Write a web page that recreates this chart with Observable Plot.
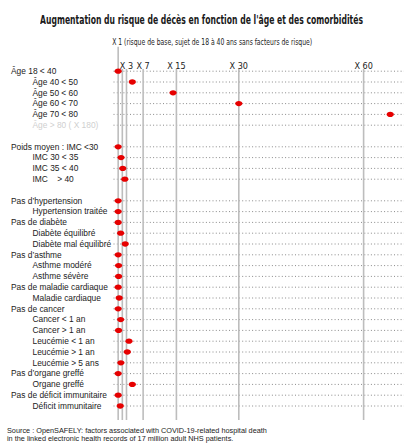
<!DOCTYPE html>
<html><head><meta charset="utf-8">
<script src="https://cdn.jsdelivr.net/npm/d3@7"></script>
<script src="https://cdn.jsdelivr.net/npm/@observablehq/plot@0.6"></script>
<style>
html,body{margin:0;padding:0;background:#fff;width:406px;height:443px;overflow:hidden}
#title{height:32px;position:relative;font-family:'Liberation Sans Narrow','DejaVu Sans Condensed','Roboto Condensed',sans-serif;font-stretch:condensed;}
#title span{position:absolute;left:40px;top:13px;font-size:13px;line-height:13px;font-weight:bold;color:#1a1a1a;white-space:nowrap;transform-origin:0 50%}
#chart{height:393px}
#chart svg{display:block}
#source{font-family:'Liberation Sans',Arial,sans-serif;font-size:7.3px;line-height:8.8px;color:#222;padding-left:7px;padding-top:1.5px}
</style></head>
<body>
<div id="title"><span>Augmentation du risque de décès en fonction de l'âge et des comorbidités</span></div>
<div id="chart"></div>
<div id="source">Source : OpenSAFELY: factors associated with COVID-19-related hospital death<br>in the linked electronic health records of 17 million adult NHS patients.</div>
<script>
const rowLabels = [
  "Âge 18 < 40","Âge 40 < 50","Âge 50 < 60","Âge 60 < 70","Âge 70 < 80","Âge > 80 ( X 180)","",
  "Poids moyen : IMC <30","IMC 30 < 35","IMC 35 < 40","IMC\u00a0\u00a0\u00a0\u00a0> 40","",
  "Pas d’hypertension","Hypertension traitée",
  "Pas de diabète","Diabète équilibré","Diabète mal équilibré",
  "Pas d’asthme","Asthme modéré","Asthme sévère",
  "Pas de maladie cardiaque","Maladie cardiaque",
  "Pas de cancer","Cancer < 1 an","Cancer > 1 an","Leucémie < 1 an","Leucémie > 1 an","Leucémie > 5 ans",
  "Pas d’organe greffé","Organe greffé",
  "Pas de déficit immunitaire","Déficit immunitaire"
];
const rowLevels = [0,1,1,1,1,1,0, 0,1,1,1,0, 0,1, 0,1,1, 0,1,1, 0,1, 0,1,1,1,1,1, 0,1, 0,1];
const rowRisk = [1,4.4,14.2,30,66.4,null,null, 1,1.7,2.1,2.6,null, 1,1, 1,1.6,2.7, 1,1.1,1.1, 1,1.25, 1,1.6,1.1,3.6,3.2,1.65, 1,4.4, 1,1.5];
const mutedRows = ["Âge > 80 ( X 180)"];
const tickValues = [3,7,15,30,60];
const extraLines = [2];
const baseValue = 1;
const subtitle = "X 1 (risque de base, sujet de 18 à 40 ans sans facteurs de risque)";

const rows = rowLabels.map((label,i)=>({i,label,level:rowLevels[i],risk:rowRisk[i]}));
const lined = rows.filter(d=>d.label!=="");
const dots = rows.filter(d=>d.risk!=null);

const ellipse = {draw(ctx,size){const r=Math.sqrt(size/Math.PI),rx=r*1.2,ry=r*0.88,k=0.5523;
  ctx.moveTo(rx,0);ctx.bezierCurveTo(rx,ry*k,rx*k,ry,0,ry);ctx.bezierCurveTo(-rx*k,ry,-rx,ry*k,-rx,0);
  ctx.bezierCurveTo(-rx,-ry*k,-rx*k,-ry,0,-ry);ctx.bezierCurveTo(rx*k,-ry,rx,-ry*k,rx,0);ctx.closePath();}};

const narrow = "'Liberation Sans Narrow','DejaVu Sans Condensed','Roboto Condensed',sans-serif";
const chart = Plot.plot({
  width:406, height:393,
  marginLeft:113.5, marginRight:2, marginTop:37, marginBottom:5,
  x:{domain:[0,69.83], axis:null},
  y:{type:"linear", domain:[0,rowLabels.length-1], reverse:true, insetTop:1.7, insetBottom:14.5, axis:null},
  style:{fontFamily:"'Liberation Sans',Arial,sans-serif", background:"#fff", overflow:"visible"},
  marks:[
    Plot.ruleY(lined,{y:"i", stroke:"#8a8a8a", strokeWidth:1, strokeDasharray:"1,2.3"}),
    Plot.ruleX(tickValues.concat(extraLines),{x:d=>d, stroke:"#bdbdbd", strokeWidth:1.6}),
    Plot.ruleX([baseValue],{x:d=>d, stroke:"#bdbdbd", strokeWidth:1.6, insetTop:-22.3}),
    Plot.text(tickValues,{x:d=>d, text:d=>"X "+d, frameAnchor:"top", dy:-6.8, fontSize:9, fontFamily:narrow, fontStretch:"condensed", fill:"#222"}),
    Plot.text([baseValue],{x:d=>d, text:()=>subtitle, frameAnchor:"top", dy:-31, dx:-6, textAnchor:"start", fontSize:9, fontFamily:narrow, fontStretch:"condensed", fill:"#222"}),
    Plot.text(rows.filter(d=>d.level===0),{y:"i", text:"label", frameAnchor:"left", textAnchor:"start", dx:-103, fontSize:8.4, fill:d=>mutedRows.includes(d.label)?"#cfcfcf":"#222"}),
    Plot.text(rows.filter(d=>d.level===1),{y:"i", text:"label", frameAnchor:"left", textAnchor:"start", dx:-81.5, fontSize:8.4, fill:d=>mutedRows.includes(d.label)?"#cfcfcf":"#222"}),
    Plot.dot(dots,{x:"risk", y:"i", r:3, symbol:ellipse, fill:"#e60000", stroke:"none"})
  ]
});
document.getElementById("chart").appendChild(chart);
d3.select(chart).selectAll("text").filter(function(){return this.textContent===subtitle;})
  .attr("textLength",200).attr("lengthAdjust","spacingAndGlyphs");
const t = document.querySelector("#title span");
const w = t.getBoundingClientRect().width;
t.style.transform = "scaleX(" + (323/w) + ")";
</script>
</body></html>
